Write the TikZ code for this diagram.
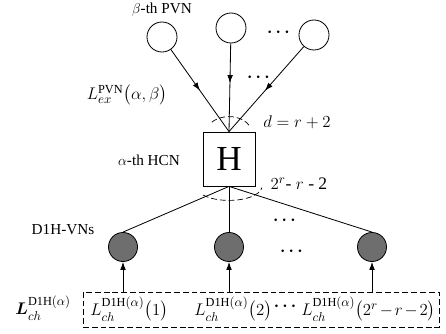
\documentclass[tikz,border=0pt]{standalone}
\usepackage{amsmath}
\usepackage{fontspec}
\setmainfont{Liberation Serif}
\usetikzlibrary{arrows.meta,positioning,calc,decorations.markings}
\definecolor{vngrey}{HTML}{6E6E6E}
\tikzset{
  pvn/.style     = {draw, circle, line width=0.7pt, minimum size=9mm, inner sep=0pt},
  vn/.style      = {pvn, fill=vngrey, minimum size=8.7mm},
  hcn/.style     = {draw, line width=0.7pt, minimum width=15.6mm, minimum height=16.2mm,
                    inner sep=0pt, font=\fontsize{30}{30}\selectfont},
  wire/.style    = {line width=0.7pt},
  sig/.style     = {-{Latex[length=2.4mm, width=1.7mm]}, line width=0.7pt},
  midsig/.style  = {wire, postaction=decorate, decoration={markings,
                    mark=at position #1 with {\arrow{Latex[length=2.4mm, width=1.7mm]}}}},
  degree/.style  = {dash pattern=on 5pt off 2.5pt, line width=0.6pt},
  frame/.style   = {draw, dash pattern=on 5pt off 2.5pt, line width=0.7pt},
  lbl/.style     = {font=\fontsize{13}{15}\selectfont, inner sep=1pt},
  mlbl/.style    = {font=\fontsize{15}{17}\selectfont, inner sep=1pt},
}

\begin{document}
\begin{tikzpicture}[x=0.03cm, y=0.03cm]
  \useasboundingbox (0,0) rectangle (446,333);
  % check node and the nodes round it
  \node[hcn] (h) at (229,174) {H};
  \node[pvn] (pvn1) at (162,296) {};
  \node[pvn] (pvn2) at (231,305) {};
  \node[pvn] (pvn3) at (314,298) {};
  \node[vn] (vn1) at (123,86) {};
  \node[vn] (vn2) at (229,86) {};
  \node[vn] (vn3) at (372,86) {};
  \node[frame, minimum width=106.8mm, minimum height=10.5mm] (ch) at (261,23.5) {};
  % labels
  \node[lbl] (pvnlbl) at (162,323) {$\beta$-th PVN};
  \node[lbl] (hcnlbl) at (149,173) {$\alpha$-th HCN};
  \node[lbl] (vnlbl) at (63,103) {D1H-VNs};
  \node[mlbl] (ex) at (127,238) {$L_{ex}^{\mathrm{PVN}}\bigl(\alpha,\beta\bigr)$};
  \node[mlbl] (dup) at (297,211) {$d=r+2$};
  \node[mlbl] (ddown) at (299,149) {$2^r$- $r$ - 2};
  \node[mlbl] (dots1) at (280,300) {$\boldsymbol{\cdots}$};
  \node[mlbl] (dots2) at (260,255) {$\boldsymbol{\cdots}$};
  \node[mlbl] (dots3) at (286,112) {$\boldsymbol{\cdots}$};
  \node[mlbl] (dots4) at (293,81) {$\boldsymbol{\cdots}$};
  \node[mlbl] (chall) at (43,25) {$\boldsymbol{L}_{ch}^{\mathrm{D1H}(\alpha)}$};
  \node[mlbl, anchor=west] (ch1) at (89,24) {$L_{ch}^{\mathrm{D1H}(\alpha)}\bigl(1\bigr)$};
  \node[mlbl, anchor=west] (ch2) at (193,24) {$L_{ch}^{\mathrm{D1H}(\alpha)}\bigl(2\bigr)$};
  \node[mlbl, anchor=east] (chn) at (437,24)
    {$\medmuskip=2mu L_{ch}^{\mathrm{D1H}(\alpha)}\bigl(2^r-r-2\bigr)$};
  \node[mlbl] (chdots) at ($(ch2.east)!0.5!(chn.west)+(0,2)$) {$\boldsymbol{\cdots}$};
  % messages into the check node
  \draw[midsig=0.5] (pvn1) -- (h.north);
  \draw[midsig=0.45] (pvn2) -- (h.north);
  \draw[midsig=0.52] (pvn3) -- (h.north);
  \draw[wire] (h.south) -- (vn1.north);
  \draw[wire] (h.south) -- (vn2.north);
  \draw[wire] (h.south) -- (vn3.north);
  % channel values
  \draw[sig] (vn1 |- ch.north) -- (vn1);
  \draw[sig] (vn2 |- ch.north) -- (vn2);
  \draw[sig] (vn3 |- ch.north) -- (vn3);
  % degree marks
  \draw[degree] ($(h.north)+(25:0.66cm and 0.45cm)$)
    arc[start angle=25, end angle=150, x radius=0.66cm, y radius=0.45cm];
  \draw[degree] ($(h.south)+(218:0.99cm and 0.42cm)$)
    arc[start angle=218, end angle=355, x radius=0.99cm, y radius=0.42cm];
\end{tikzpicture}
\end{document}
